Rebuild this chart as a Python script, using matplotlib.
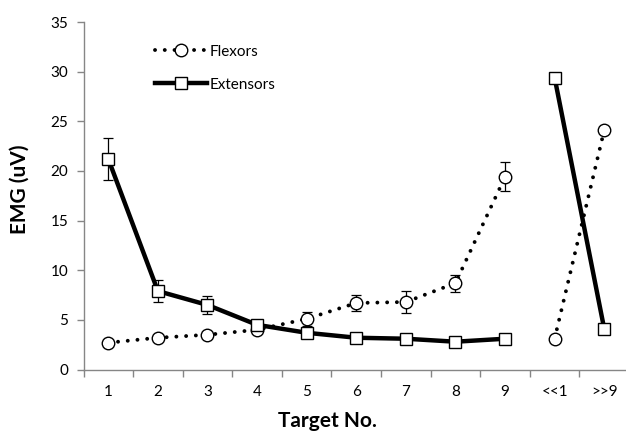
import numpy as np
import matplotlib.pyplot as plt

plt.rcParams['font.family'] = ['Lato', 'DejaVu Sans']

targets = ['1', '2', '3', '4', '5', '6', '7', '8', '9', '<<1', '>>9']
flexors = [2.7, 3.2, 3.5, 4.0, 5.1, 6.7, 6.8, 8.7, 19.4, 3.1, 24.1]
flexors_err = [0, 0, 0, 0.2, 0.7, 0.8, 1.1, 0.85, 1.45, 0, 0]
extensors = [21.2, 7.9, 6.5, 4.5, 3.7, 3.2, 3.1, 2.8, 3.1, 29.4, 4.1]
extensors_err = [2.1, 1.1, 0.9, 0.3, 0, 0, 0, 0, 0, 0, 0]

x = np.arange(1, len(targets) + 1)
gray = '#868686'

fig = plt.figure(figsize=(6.26, 4.4), dpi=100)
ax = fig.add_axes([0.1334, 0.1602, 0.8714, 0.7898])

# error bars under the markers
ax.errorbar(x, flexors, yerr=flexors_err, fmt='none', ecolor='black',
            elinewidth=0.9, capsize=3.5, capthick=0.9, zorder=2)
ax.errorbar(x, extensors, yerr=extensors_err, fmt='none', ecolor='black',
            elinewidth=0.9, capsize=3.5, capthick=0.9, zorder=2)

dot = dict(color='black', linewidth=2.8, linestyle=(0, (0.01, 2.5)),
           dash_capstyle='round', marker='o', markersize=9,
           markerfacecolor='white', markeredgecolor='black',
           markeredgewidth=1.0, zorder=3)
solid = dict(color='black', linewidth=3.2, marker='s', markersize=9,
             markerfacecolor='white', markeredgecolor='black',
             markeredgewidth=1.0, zorder=4)

# two separate segments: targets 1-9 and the two extreme ones
l1, = ax.plot(x[:9], flexors[:9], label='Flexors', **dot)
ax.plot(x[9:], flexors[9:], **dot)
l2, = ax.plot(x[:9], extensors[:9], label='Extensors', **solid)
ax.plot(x[9:], extensors[9:], **solid)

ax.set_xlim(0.5, len(targets) + 0.5)
ax.set_ylim(0, 35)
ax.set_yticks(np.arange(0, 36, 5))
ax.set_xticks(np.arange(0.5, len(targets) + 1, 1))
ax.set_xticklabels([])
ax.set_xticks(x, minor=True)
ax.set_xticklabels(targets, minor=True)
ax.tick_params(axis='x', which='major', direction='out', length=5,
               color=gray, width=1)
ax.tick_params(axis='x', which='minor', length=0, pad=11, labelsize=11)
ax.tick_params(axis='y', direction='out', length=5, color=gray, width=1,
               labelsize=11, pad=6)

for s in ['top', 'right']:
    ax.spines[s].set_visible(False)
for s in ['left', 'bottom']:
    ax.spines[s].set_color(gray)
    ax.spines[s].set_linewidth(1)

ax.set_ylabel('EMG (uV)', fontsize=15, fontweight='bold')
ax.yaxis.set_label_coords(-0.098, 0.52)
ax.set_xlabel('Target No.', fontsize=15, fontweight='bold')
ax.xaxis.set_label_coords(0.448, -0.118)

ax.legend(handles=[l1, l2], loc='upper left', bbox_to_anchor=(0.131, 0.935),
          frameon=False, fontsize=11, handlelength=3.4, handletextpad=0.2,
          labelspacing=1.25, borderpad=0, borderaxespad=0)

fig.savefig('out.png', dpi=100)
